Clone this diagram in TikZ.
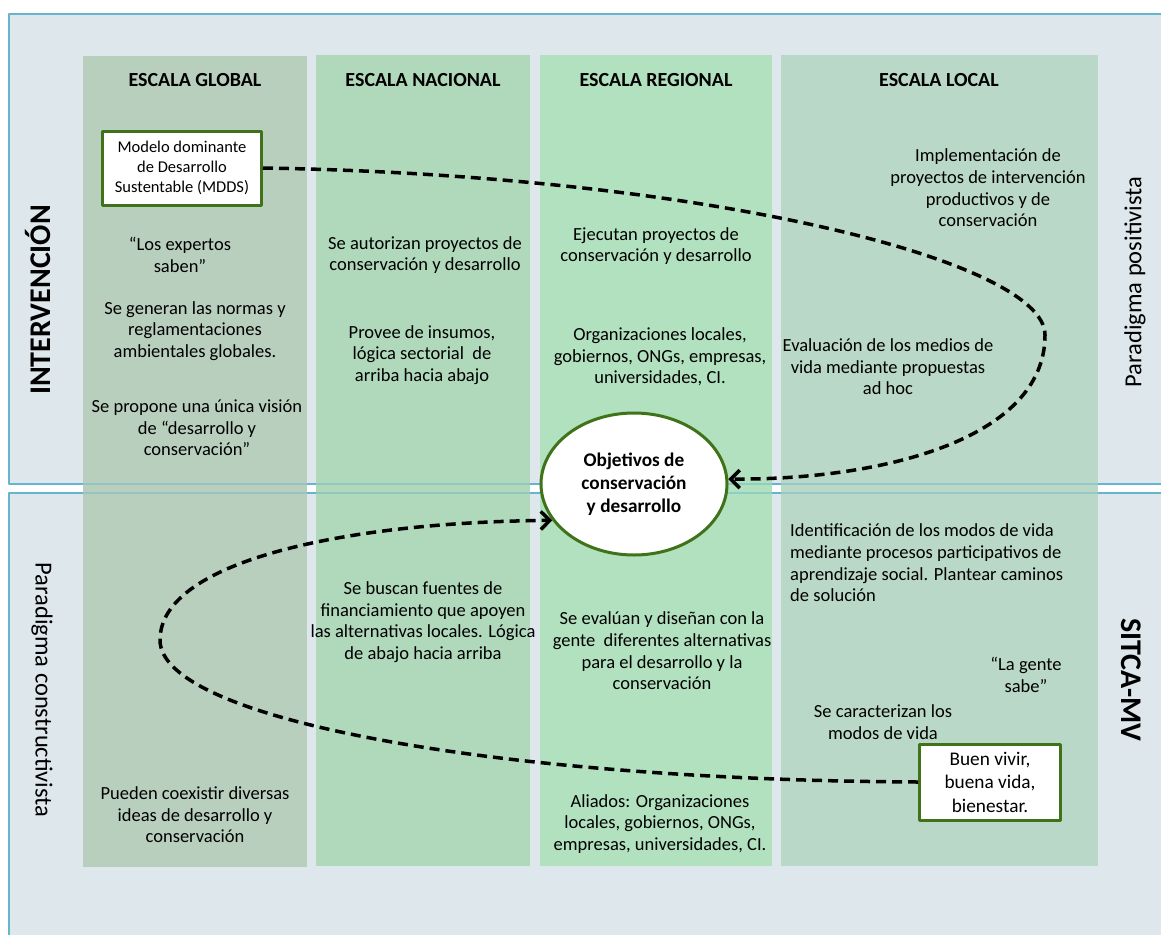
\documentclass[tikz,border=0pt]{standalone}
\usepackage{fontspec}
\setmainfont{Carlito}
\usetikzlibrary{arrows.meta,shapes.geometric}
\definecolor{panelbg}{HTML}{DDE7EC}
\definecolor{panelline}{HTML}{67B5CC}
\definecolor{colglobal}{HTML}{B9CFBE}
\definecolor{colnacional}{HTML}{B0D8BB}
\definecolor{colregional}{HTML}{B2E1BF}
\definecolor{collocal}{HTML}{BAD8C7}
\definecolor{boxgreen}{HTML}{3F7219}
\tikzset{
  panel/.style={fill=panelbg,draw=panelline,line width=1.5pt},
  txt/.style={align=center,inner sep=0pt,font=\fontsize{18.5}{21.6}\selectfont},
  hdr/.style={inner sep=0pt,font=\fontsize{20}{24}\selectfont\bfseries},
  sidelabel/.style={inner sep=0pt,font=\fontsize{24.5}{30}\selectfont},
  sidebold/.style={inner sep=0pt,font=\fontsize{30}{34}\selectfont\bfseries},
  greenbox/.style={draw=boxgreen,line width=3pt,fill=white,align=center,inner sep=0pt,font=\fontsize{16.5}{20}\selectfont},
  loopline/.style={line width=3.5pt,dash pattern=on 10pt off 6pt,-{Straight Barb[length=9pt,width=18pt,line width=3.5pt]}}
}
\begin{document}
\begin{tikzpicture}[x=1pt,y=-1pt,line join=round]
\useasboundingbox (0,0) rectangle (1161,934);
\draw[panel] (9,14) rectangle (1175,484);
\draw[panel] (9,493) rectangle (1175,950);
\fill[colglobal] (83,56) rectangle (307,867);
\fill[colnacional] (316,55) rectangle (530,866);
\fill[colregional] (540,55) rectangle (772,866);
\fill[collocal] (781,55) rectangle (1098,866);
\draw[panelline,opacity=0.45,line width=1.5pt] (83,484) -- (1098,484) (83,493) -- (1098,493);

\node[hdr] (global) at (195,80) {ESCALA GLOBAL};
\node[hdr] (nacional) at (423,80) {ESCALA NACIONAL};
\node[hdr] (regional) at (656,80) {ESCALA REGIONAL};
\node[hdr] (local) at (939,80) {ESCALA LOCAL};

\node[sidebold,rotate=90] (interv) at (38,300) {INTERVENCIÓN};
\node[sidelabel,rotate=90] (positiv) at (1135,282) {Paradigma positivista};
\node[sidelabel,rotate=-90] (construct) at (42,690) {Paradigma constructivista};
\node[sidebold,rotate=-90] (sitca) at (1131,680) {SITCA-MV};

\node[greenbox,minimum width=159pt,minimum height=74pt] (mdds) at (182,168) {Modelo dominante\\de Desarrollo\\Sustentable (MDDS)};
\node[greenbox,minimum width=141pt,minimum height=76pt,font=\fontsize{19.3}{23.5}\selectfont] (buen) at (990,782) {Buen vivir,\\buena vida,\\bienestar.};
\node[ellipse,draw=boxgreen,line width=3pt,fill=white,minimum width=186pt,minimum height=142pt,align=center,inner sep=0pt,font=\fontsize{19.3}{23}\selectfont\bfseries] (obj) at (634,484) {Objetivos de\\conservación\\y desarrollo};

\node[txt] (expertos) at (180,255) {“Los expertos\\saben”};
\node[txt] (normas) at (195,331) {Se generan las normas y\\reglamentaciones\\ambientales globales.};
\node[txt] (vision) at (197,428) {Se propone una única visión\\de “desarrollo y\\conservación”};
\node[txt] (coexistir) at (195,815) {Pueden coexistir diversas\\ideas de desarrollo y\\conservación};

\node[txt] (autorizan) at (425,255) {Se autorizan proyectos de\\conservación y desarrollo};
\node[txt] (provee) at (422,355) {Provee de insumos,\\lógica sectorial~ de\\arriba hacia abajo};
\node[txt] (fuentes) at (423,622) {Se buscan fuentes de\\financiamiento que apoyen\\las alternativas locales. Lógica\\de abajo hacia arriba};

\node[txt] (ejecutan) at (656,246) {Ejecutan proyectos de\\conservación y desarrollo};
\node[txt] (orgs) at (660,357) {Organizaciones locales,\\gobiernos, ONGs, empresas,\\universidades, CI.};
\node[txt] (evaluan) at (662,651) {Se evalúan y diseñan con la\\gente~ diferentes alternativas\\para el desarrollo y la\\conservación};
\node[txt] (aliados) at (660,824) {Aliados: Organizaciones\\locales, gobiernos, ONGs,\\empresas, universidades, CI.};

\node[txt] (implem) at (988,188) {Implementación de\\proyectos de intervención\\productivos y de\\conservación};
\node[txt] (medios) at (888,367) {Evaluación de los medios de\\vida mediante propuestas\\ad hoc};
\node[txt,align=left,anchor=west] (identif) at (790,563) {Identificación de los modos de vida\\mediante procesos participativos de\\aprendizaje social. Plantear caminos\\de solución};
\node[txt] (gente) at (1026,675) {“La gente\\sabe”};
\node[txt] (caract) at (883,722) {Se caracterizan los\\modos de vida};

\draw[loopline] (mdds.east) .. controls (700,175) and (1045,260) .. (1045,335) .. controls (1045,440) and (880,480) .. (obj.3);
\draw[loopline] (buen.west) .. controls (500,780) and (160,720) .. (160,640) .. controls (160,560) and (350,522) .. (obj.204);
\end{tikzpicture}
\end{document}
